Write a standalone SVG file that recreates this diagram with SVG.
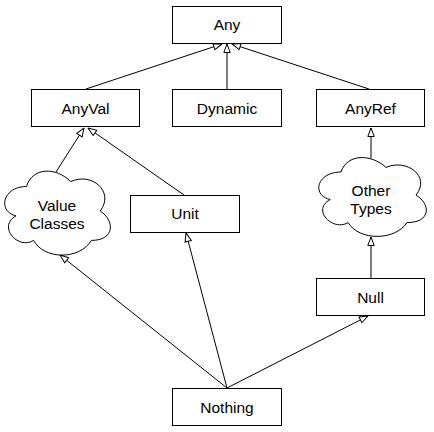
<svg xmlns="http://www.w3.org/2000/svg" width="434" height="432" viewBox="0 0 434 432">
<style>
.box{fill:#fff;stroke:#000;stroke-width:1}
.lbl{font-family:"Liberation Sans",Arial,Helvetica,sans-serif;font-size:15.5px;fill:#000;text-anchor:middle}
.edge{fill:none;stroke:#000;stroke-width:1;marker-end:url(#arr)}
</style>
<defs>
<marker id="arr" viewBox="0 0 10 8" refX="9.5" refY="4" markerWidth="10" markerHeight="8" markerUnits="userSpaceOnUse" orient="auto">
<path d="M1,0.8 L9.5,4 L1,7.2 Z" fill="#fff" stroke="#000" stroke-width="1"/>
</marker>
</defs>
<rect width="434" height="432" fill="#fff"/>
<g id="connectors">
<path class="edge" d="M86,89 L222,44"/>
<path class="edge" d="M227,89 L227,44"/>
<path class="edge" d="M369,89 L232,44"/>
<path class="edge" d="M56,172 L84,128"/>
<path class="edge" d="M184,195 L88,128"/>
<path class="edge" d="M371,158 L371,128"/>
<path class="edge" d="M371,278 L371,237"/>
<path class="edge" d="M227,388 L60,255"/>
<path class="edge" d="M227,388 L186,233"/>
<path class="edge" d="M227,388 L368,316"/>
</g>
<g id="any"><rect class="box" x="172.5" y="6.5" width="109" height="37"/><text class="lbl" x="227" y="30">Any</text></g>
<g id="anyval"><rect class="box" x="31.5" y="89.5" width="108" height="37"/><text class="lbl" x="85.5" y="113.5">AnyVal</text></g>
<g id="dynamic"><rect class="box" x="172.5" y="89.5" width="109" height="37"/><text class="lbl" x="227" y="113.5">Dynamic</text></g>
<g id="anyref"><rect class="box" x="316.5" y="89.5" width="108" height="37"/><text class="lbl" x="370.5" y="113.5">AnyRef</text></g>
<g id="valueclasses"><path class="box" d="M26.5,186.5 C2.9,186.5 -3,211 15.9,215.9 C-3,226.7 18.2,250.2 33.6,240.4 C44.2,260 79.6,260 91.4,240.4 C115,240.4 115,220.8 100.25,211 C115,191.4 91.4,171.8 70.75,181.6 C56,166.9 32.4,166.9 26.5,186.5 Z"/><text class="lbl" x="57" y="210.5">Value</text><text class="lbl" x="57" y="228.5">Classes</text></g>
<g id="unit"><rect class="box" x="130.5" y="195.5" width="109" height="37"/><text class="lbl" x="185" y="219">Unit</text></g>
<g id="othertypes"><path class="box" d="M341,172 C317,172 311,195 330.2,199.6 C311,209.7 332.6,231.8 348.2,222.6 C359,241 395,241 407,222.6 C431,222.6 431,204.2 416,195 C431,176.6 407,158.2 386,167.4 C371,153.6 347,153.6 341,172 Z"/><text class="lbl" x="371" y="195.5">Other</text><text class="lbl" x="371" y="214">Types</text></g>
<g id="null"><rect class="box" x="316.5" y="278.5" width="108" height="37"/><text class="lbl" x="370.5" y="302.5">Null</text></g>
<g id="nothing"><rect class="box" x="172.5" y="388.5" width="109" height="37"/><text class="lbl" x="227" y="412.5">Nothing</text></g>
</svg>
